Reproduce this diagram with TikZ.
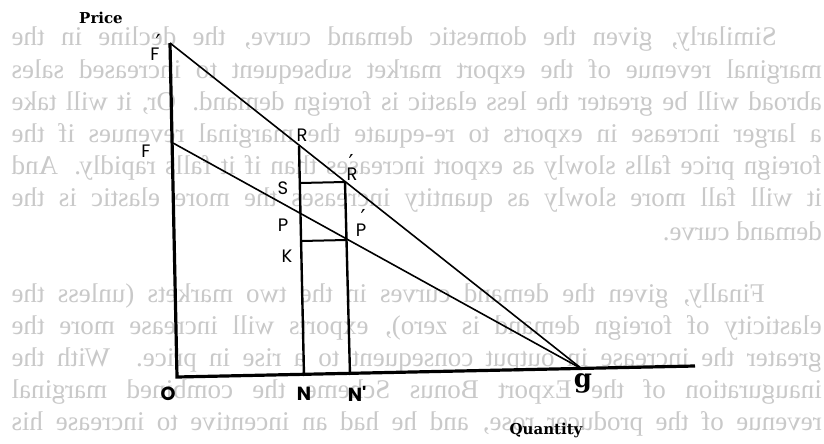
\documentclass[tikz,border=0pt]{standalone}
\usepackage{fontspec}
\usepackage{graphicx}
\setmainfont{Liberation Serif}
\newfontfamily\labfont{Poppins}
\newfontfamily\axfont{DejaVu Serif}
\newfontfamily\symfont{DejaVu Sans}
\newcommand\bgrow[2]{\reflectbox{\makebox[#1][s]{#2}}}
\begin{document}
\begin{tikzpicture}[x=1pt,y=-1pt,
  bgline/.style={anchor=base east,inner sep=0pt,text=black!21,font=\fontsize{27}{32}\selectfont},
  axisline/.style={line width=3.2pt,line join=miter},
  demand/.style={line width=1.6pt},
  vline/.style={line width=2.4pt},
  hline/.style={line width=2pt},
  lab/.style={inner sep=0pt,font=\labfont\fontsize{18}{18}\selectfont},
  prm/.style={inner sep=0pt,font=\symfont\fontsize{22}{22}\selectfont},
  blab/.style={inner sep=0pt,font=\labfont\bfseries\fontsize{19}{19}\selectfont},
  axlab/.style={inner sep=0pt,font=\axfont\bfseries\fontsize{15}{15}\selectfont}]
\useasboundingbox (0,0) rectangle (824,444);
\fill[white] (0,0) rectangle (824,444);
% faint mirrored show-through text from the reverse of the page
\node[bgline] (t1) at (777,46) {\bgrow{765pt}{Similarly, given the domestic demand curve, the decline in the}};
\node[bgline] (t2) at (822,78) {\bgrow{810pt}{marginal revenue of the export market subsequent to increased sales}};
\node[bgline] (t3) at (822,110) {\bgrow{810pt}{abroad will be greater the less elastic is foreign demand. Or, it will take}};
\node[bgline] (t4) at (822,142) {\bgrow{810pt}{a larger increase in exports to re-equate the marginal revenues if the}};
\node[bgline] (t5) at (822,174) {\bgrow{810pt}{foreign price falls slowly as export increases than if it falls rapidly. And}};
\node[bgline] (t6) at (822,206) {\bgrow{810pt}{it will fall more slowly as quantity increases the more elastic is the}};
\node[bgline] (t7) at (822,240) {\reflectbox{demand curve.}};
\node[bgline] (t8) at (765,302) {\bgrow{753pt}{Finally, given the demand curves in the two markets (unless the}};
\node[bgline] (t9) at (822,334) {\bgrow{810pt}{elasticity of foreign demand is zero), exports will increase more the}};
\node[bgline] (t10) at (822,366) {\bgrow{810pt}{greater the increase in output consequent to a rise in price. With the}};
\node[bgline] (t11) at (822,398) {\bgrow{810pt}{inauguration of the Export Bonus Scheme the combined marginal}};
\node[bgline] (t12) at (822,430) {\bgrow{810pt}{revenue of the producer rose, and he had an incentive to increase his}};
% points
\coordinate (Ft) at (170,43);
\coordinate (Fb) at (173,143);
\coordinate (O) at (177,377);
\coordinate (Xe) at (695,366);
\coordinate (g) at (582,369);
\coordinate (R) at (299,146);
\coordinate (S) at (300,183);
\coordinate (K) at (301,241);
\coordinate (Nb) at (304,376);
\coordinate (Rp) at (345,182);
\coordinate (Pp) at (346.5,240);
\coordinate (Npb) at (350,375);
% lines
\draw[axisline] (Ft) -- (O) -- (Xe);
\draw[demand] (Ft) -- (g);
\draw[demand] (Fb) -- (g);
\draw[vline] (R) -- (Nb);
\draw[vline] (Rp) -- (Npb);
\draw[hline] (S) -- (Rp);
\draw[hline] (K) -- (Pp);
% labels
\node[axlab] (price) at (101,18) {Price};
\node[axlab] (qty) at (546,430) {Quantity};
\node[lab] (lFt) at (155,54) {F};
\node[prm] (lFtp) at (158,42) {′};
\node[lab] (lFb) at (146,151) {F};
\node[lab] (lR) at (302,135) {R};
\node[lab] (lRp) at (352,174) {R};
\node[prm] (lRpp) at (351,162) {′};
\node[lab] (lS) at (283,188) {S};
\node[lab] (lP) at (283,225) {P};
\node[lab] (lPp) at (361,230) {P};
\node[prm] (lPpp) at (363,217) {′};
\node[lab] (lK) at (287,256) {K};
\node[blab] (lO) at (168,394) {O};
\node[blab] (lN) at (304,394) {N};
\node[blab] (lNp) at (357,394) {N'};
\node[inner sep=0pt,font=\axfont\bfseries\fontsize{26}{26}\selectfont] (lg) at (583,383) {g};
\end{tikzpicture}
\end{document}
